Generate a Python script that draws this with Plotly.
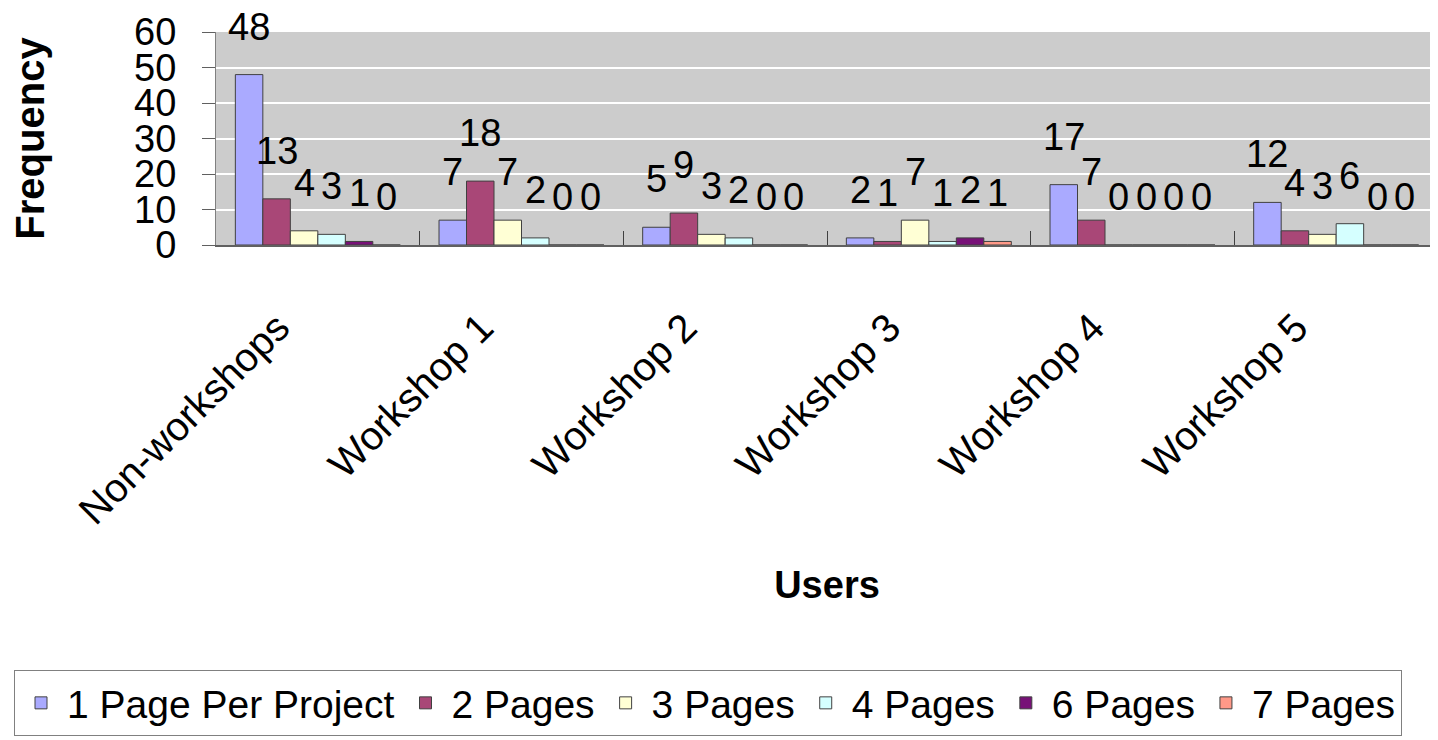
import plotly.graph_objects as go

categories = ["Non-workshops", "Workshop 1", "Workshop 2", "Workshop 3", "Workshop 4", "Workshop 5"]
series_names = ["1 Page Per Project", "2 Pages", "3 Pages", "4 Pages", "6 Pages", "7 Pages"]
one_page = [48, 7, 5, 2, 17, 12]
two_pages = [13, 18, 9, 1, 7, 4]
three_pages = [4, 7, 3, 7, 0, 3]
four_pages = [3, 2, 2, 1, 0, 6]
six_pages = [1, 0, 0, 2, 0, 0]
seven_pages = [0, 0, 0, 1, 0, 0]
y_ticks = [0, 10, 20, 30, 40, 50, 60]

series_values = [one_page, two_pages, three_pages, four_pages, six_pages, seven_pages]
colors = ["#AAAAFF", "#A94777", "#FFFFD5", "#D5FFFF", "#771177", "#FF9988"]

FONT = "Liberation Sans, Arial, sans-serif"
# page body adds an 8px offset; figure sized to fill the 1438x740 window
W, H = 1430, 732
ML, MR, MT, MB = 208, 0, 24, 495
BARGAP = 0.19
plot_w = W - ML - MR
plot_h = H - MT - MB

fig = go.Figure()
for name, vals, col in zip(series_names, series_values, colors):
    fig.add_trace(go.Bar(
        x=categories, y=vals, name=name,
        marker=dict(color=col, line=dict(color="#404040", width=1)),
    ))

# data labels, placed above each bar of the group
n = len(series_values)
cat_px = plot_w / len(categories)
bar_px = cat_px * (1 - BARGAP) / n
annotations = []
for i, vals in enumerate(series_values):
    for c, v in zip(categories, vals):
        annotations.append(dict(
            x=c, y=v, xref="x", yref="y", text=str(v), showarrow=False,
            xshift=(i - (n - 1) / 2) * bar_px, yshift=26, yanchor="bottom",
            borderpad=0,
            font=dict(family=FONT, size=38, color="black"),
        ))

fig.update_layout(
    width=W, height=H,
    barmode="group", bargap=BARGAP, bargroupgap=0,
    paper_bgcolor="white", plot_bgcolor="#CCCCCC",
    margin=dict(l=ML, r=MR, t=MT, b=MB, autoexpand=False),
    font=dict(family=FONT, size=38, color="black"),
    showlegend=True,
    annotations=annotations,
    legend=dict(
        orientation="h",
        x=(6 - ML) / plot_w, xanchor="left",
        y=-(662 - (MT + plot_h)) / plot_h, yanchor="top",
        bordercolor="#808080", borderwidth=1,
        font=dict(family=FONT, size=39, color="black"),
        traceorder="normal", itemwidth=42,
    ),
    xaxis=dict(
        automargin=False,
        tickangle=-45, tickfont=dict(family=FONT, size=40),
        ticklabelshift=-40, ticklabelstandoff=41,
        ticks="inside", tickson="boundaries", ticklen=14, tickcolor="#404040",
        showline=True, linecolor="#606060", linewidth=2,
        title=dict(text="<b>Users</b>", font=dict(family=FONT, size=38), standoff=40),
    ),
    yaxis=dict(
        automargin=False,
        range=[0, 60], tickvals=y_ticks, tickfont=dict(family=FONT, size=38),
        ticks="outside", ticklen=13, tickcolor="#606060", ticklabelstandoff=18,
        showline=True, linecolor="#808080", linewidth=1, mirror=True,
        gridcolor="white", gridwidth=2, zeroline=False,
        title=dict(text="<b>Frequency</b>", font=dict(family=FONT, size=40), standoff=80),
    ),
)

fig.write_html("out.html")
